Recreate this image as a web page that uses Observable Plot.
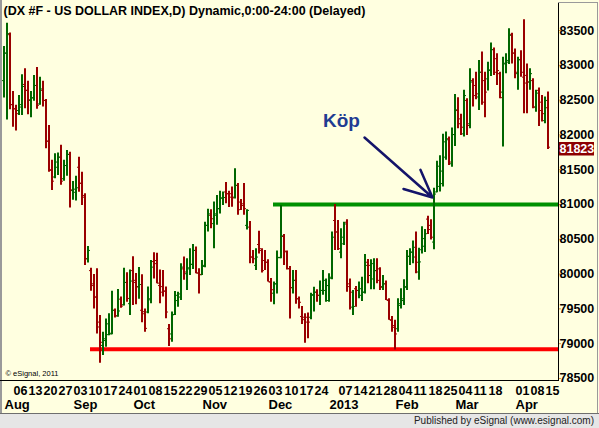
<!DOCTYPE html>
<html>
<head>
<meta charset="utf-8">
<script src="https://cdn.jsdelivr.net/npm/d3@7"></script>
<script src="https://cdn.jsdelivr.net/npm/@observablehq/plot@0.6"></script>
<style>
html,body{margin:0;padding:0;background:#fff;}
#wrap{position:relative;width:599px;height:428px;background:#FFFFE0;overflow:hidden;font-family:"Liberation Sans",Arial,sans-serif;}
#chart svg{display:block;}
.ln{position:absolute;}
#foot{position:absolute;left:0;top:413px;width:599px;height:15px;background:#e6e6e6;border-top:1px solid #6e6e6e;box-sizing:border-box;font-size:10px;line-height:14px;text-align:right;padding-right:5px;color:#222;}
</style>
</head>
<body>
<div id="wrap">
  <div id="chart"></div>
  <div class="ln" style="left:0;top:0;width:2px;height:413px;background:#9a9a9a"></div>
  <div class="ln" style="left:0;top:380px;width:559px;height:1px;background:#000"></div>
  <div class="ln" style="left:558px;top:2px;width:1px;height:379px;background:#000"></div>
  <div class="ln" style="left:558px;top:2px;width:40px;height:1px;background:#9a9a9a"></div>
  <div class="ln" style="left:597px;top:2px;width:1px;height:411px;background:#9a9a9a"></div>
  <div id="foot">Published by eSignal (www.esignal.com)</div>
</div>
<script>
// ---- data ----
const title = "(DX #F - US DOLLAR INDEX,D) Dynamic,0:00-24:00 (Delayed)";
const copyright = "© eSignal, 2011";
const firstDay = "2012-08-01";
const lastDay = "2013-04-16";
const closedDays = ["2012-12-25", "2013-01-01", "2013-03-29"];
const hiddenWeekLabels = ["2012-12-31", "2013-03-25"];
const monthNames = ["Jan","Feb","Mar","Apr","May","Jun","Jul","Aug","Sep","Oct","Nov","Dec"];
const yTicks = [78500, 79000, 79500, 80000, 80500, 81000, 81500, 82000, 82500, 83000, 83500];

const open = [82780,83175,83440,82435,82375,82350,82400,82725,82640,82495,
82535,82710,82445,82640,82495,81910,81500,81395,81535,81680,
81370,81560,81720,81200,81175,81535,81305,81105,80220,80050,
79860,79670,79310,78975,79045,79130,79140,79480,79400,79640,
79560,79880,79575,80050,79880,79820,79480,79460,79455,79645,
80180,80195,79835,79820,79755,79215,79140,79420,79620,79670,
80075,80005,80075,80140,80340,80015,79990,80110,80700,80845,
80725,80865,80940,81090,81180,81155,81155,81105,81275,81035,
80985,80700,80675,80245,80125,80425,80340,80195,80170,79885,
79725,79860,80235,80540,80320,80075,79805,79910,79645,79390,
79345,79380,79380,79695,79740,79695,79765,79765,79620,79940,
80770,80605,80315,80530,80745,79860,79525,79790,79765,79695,
79740,80170,79980,79930,80050,80075,79820,79860,79620,79335,
79235,79215,79550,79620,79810,80255,80315,80245,80030,80350,
80400,80790,80700,80460,81180,81260,81300,81680,81945,81585,
82005,82350,82160,82015,82495,82160,82780,82710,82545,82900,
82780,82805,82935,83225,83095,82880,82615,83020,83070,83445,
83175,82880,83080,82830,82855,82760,82780,82400,82640,82470,
82205,82390];

const high = [83270,83605,83465,82625,82425,82565,82865,82950,82770,82625,
82855,82970,82830,82770,82510,82135,81635,81730,81740,81850,
81635,81775,81750,81330,81405,81680,81465,81155,80395,80085,
79995,80075,79405,79165,79355,79430,79755,79500,79780,79670,
80085,80020,80060,80250,80010,80095,79990,79500,79815,80195,
80305,80300,80060,80050,79815,79275,79455,79750,79740,80150,
80245,80220,80365,80425,80390,80075,80195,80745,80930,80925,
81035,81130,81190,81180,81315,81190,81250,81515,81300,81070,
81300,80925,80755,80340,80365,80615,80365,80340,80205,79935,
79885,80330,80985,80570,80330,80110,80050,80050,79670,79535,
79430,79440,79725,79810,79775,79900,80050,79930,80005,80605,
81000,80770,80650,80745,80780,79930,79765,79820,79885,79955,
80280,80210,80205,80220,80220,80090,79980,79900,79645,79390,
79335,79645,79790,79920,80340,80365,80475,80605,80370,80680,
80640,80830,80780,81235,81620,81700,82010,82040,81970,82100,
82580,82535,82295,82640,82520,82950,82805,82900,83070,83190,
82900,83045,83320,83250,83165,82900,83115,83165,83525,83460,
83235,83115,83210,83655,83020,82950,82805,82640,82675,82565,
82545,82615];

const low = [82530,82215,82360,82110,82055,82280,82280,82375,82290,82245,
82485,82370,82425,82400,81800,81465,81200,81370,81415,81275,
81335,81405,80950,81060,81050,81175,80985,80125,80160,79755,
79500,79140,78720,78830,78950,79115,79130,79370,79380,79510,
79540,79595,79405,79550,79560,79640,79300,79165,79430,79575,
79930,79860,79575,79670,79360,78960,79020,79405,79525,79620,
79910,79765,79980,80065,80005,79715,79980,80090,80605,80650,
80365,80700,80865,80985,81010,80955,80960,81080,80845,80915,
80845,80635,80150,80150,80050,80290,80015,80050,79885,79595,
79560,79715,80220,80125,80060,79355,79715,79565,79500,79275,
79005,79070,79345,79455,79595,79550,79695,79595,79595,79920,
80340,80340,80220,80410,79740,79485,79405,79525,79645,79605,
79715,79860,79775,79775,79860,79765,79765,79620,79335,79165,
78910,79165,79500,79550,79765,80125,80150,80005,79910,80290,
80310,80570,80490,80350,81170,81180,81250,81635,81560,81535,
81835,82090,81990,81970,81990,82090,82400,82505,82350,82425,
82245,82630,82840,82855,82710,82520,81825,82880,83010,83020,
82805,82640,82830,82305,82305,82640,82375,82325,82120,82185,
82160,81790];

const close = [83175,83455,82435,82375,82305,82435,82695,82640,82505,82530,
82710,82425,82660,82495,81910,81490,81335,81610,81680,81335,
81560,81720,81210,81220,81240,81305,81130,80220,80340,79835,
79670,79240,79020,79070,79285,79150,79480,79400,79470,79540,
79880,79650,79900,79910,79815,79850,79430,79220,79630,80100,
80150,79870,79740,79755,79455,79070,79415,79695,79715,80100,
80030,80090,80140,80340,80015,79995,80125,80700,80865,80795,
80845,80940,81095,81100,81155,81105,81095,81275,80925,81010,
80940,80915,80245,80220,80245,80365,80050,80170,79890,79775,
79860,80240,80550,80330,80080,79805,79910,79645,79595,79380,
79310,79310,79705,79740,79695,79765,79910,79835,79955,80530,
80605,80365,80435,80720,79820,79740,79535,79765,79790,79740,
80125,80125,80150,80050,79910,79810,79860,79630,79345,79260,
79140,79575,79645,79820,80255,80315,80385,80170,80175,80510,
80580,80640,80530,81150,81550,81480,81900,81930,81610,82005,
82360,82230,82110,82565,82135,82760,82565,82590,82900,82470,
82615,82925,83225,82900,82925,82535,83030,83045,83430,83175,
82900,83080,82900,82745,82760,82880,82400,82600,82350,82305,
82495,81823];

// support / resistance lines drawn on the chart
const levelStart = ["2012-09-11", "2012-12-05"];
const levelValue = [78920, 81000];
// annotation ("Köp" = buy) and its arrow, in bar-index / price units
const noteText = "Köp";
const notePos = {bar: 112.1, value: 82200};
const arrowFrom = {bar: 119.8, value: 81963};
const arrowTo = {bar: 142.4, value: 81100};

// ---- build ----
const days = [];
for (let t = Date.parse(firstDay); t <= Date.parse(lastDay); t += 864e5) {
  const d = new Date(t), wd = d.getUTCDay(), s = d.toISOString().slice(0, 10);
  if (wd === 0 || wd === 6 || closedDays.includes(s)) continue;
  days.push(s);
}
const bars = days.map((s, i) => ({i, date: s, open: open[i], high: high[i], low: low[i], close: close[i]}));
const idx = s => days.indexOf(s);
const weekLabels = bars.filter(d => new Date(d.date).getUTCDay() === 1 && !hiddenWeekLabels.includes(d.date))
  .map(d => ({i: d.i, label: d.date.slice(8, 10)}));
const monthLabels = bars.filter((d, k) => k === 0 || d.date.slice(5, 7) !== bars[k - 1].date.slice(5, 7))
  .map(d => {
    const m = +d.date.slice(5, 7) - 1;
    return {i: d.i, label: m === 0 ? d.date.slice(0, 4) : monthNames[m]};
  });
const levels = levelStart.map((s, k) => ({start: idx(s), value: levelValue[k], k}));
const last = bars[bars.length - 1];

const upColor = "#006600", downColor = "#990000";
const barColor = d => d.close >= d.open ? upColor : downColor;
const levelColors = ["#ff0000", "#009000"];
const xDomain = [-0.6655, 184.33];
const tickLen = 0.67;
const boldFont = {fontWeight: "bold", fontSize: 12.5};

const chart = Plot.plot({
  width: 599,
  height: 413,
  marginLeft: 2,
  marginRight: 41,
  marginTop: 3,
  marginBottom: 33,
  x: {domain: xDomain, round: true, axis: null},
  y: {domain: [78471, 83888], axis: null},
  style: {background: "#FFFFE0", fontFamily: "'Liberation Sans', Arial, sans-serif", fontSize: "12.5px", color: "black", overflow: "visible"},
  marks: [
    Plot.ruleY(levels, {y: "value", x1: d => d.start - 0.5, x2: xDomain[1], stroke: d => levelColors[d.k], strokeWidth: 4}),
    Plot.ruleX(bars, {x: "i", y1: "low", y2: "high", stroke: barColor, strokeWidth: 2, dx: -0.5}),
    Plot.ruleY(bars, {y: "open", x1: d => d.i - tickLen, x2: "i", stroke: barColor, strokeWidth: 1}),
    Plot.ruleY(bars, {y: "close", x1: "i", x2: d => d.i + tickLen, stroke: barColor, strokeWidth: 1}),
    Plot.arrow([{a: arrowFrom, b: arrowTo}], {
      x1: d => d.a.bar, y1: d => d.a.value, x2: d => d.b.bar, y2: d => d.b.value,
      stroke: "#14146a", strokeWidth: 2.5, headLength: 22, headAngle: 50
    }),
    Plot.text([noteText], {x: notePos.bar, y: notePos.value, text: d => d, fill: "#1f3c92", fontWeight: "bold", fontSize: 19, textAnchor: "middle"}),
    Plot.text([title], {frameAnchor: "top-left", dx: 1, dy: 7.8, lineAnchor: "middle", textAnchor: "start", text: d => d, fill: "black", ...boldFont}),
    Plot.text([copyright], {frameAnchor: "bottom-left", dx: 3, dy: -7, lineAnchor: "middle", textAnchor: "start", text: d => d, fill: "black", fontSize: 7.5}),
    Plot.axisY(yTicks, {anchor: "right", tickSize: 2, tickPadding: -1, stroke: "#e39a3b", fill: "black", tickFormat: d => String(d), textAnchor: "start", ...boldFont}),
    Plot.text(weekLabels, {x: "i", frameAnchor: "bottom", dy: 10, lineAnchor: "middle", textAnchor: "start", text: "label", fill: "black", ...boldFont}),
    Plot.text(monthLabels, {x: "i", frameAnchor: "bottom", dy: 24.5, lineAnchor: "middle", textAnchor: "start", text: "label", fill: "black", fontWeight: "bold", fontSize: 13}),
    Plot.ruleY([last], {y: "close", x1: xDomain[1], x2: xDomain[1] + 11.98, stroke: "#8c0000", strokeWidth: 13.5, dy: 1.5}),
    Plot.text([last], {x: xDomain[1], y: "close", dx: 1, dy: 1.5, textAnchor: "start", text: d => String(d.close), fill: "white", ...boldFont})
  ]
});
document.getElementById("chart").appendChild(chart);
</script>
</body>
</html>
